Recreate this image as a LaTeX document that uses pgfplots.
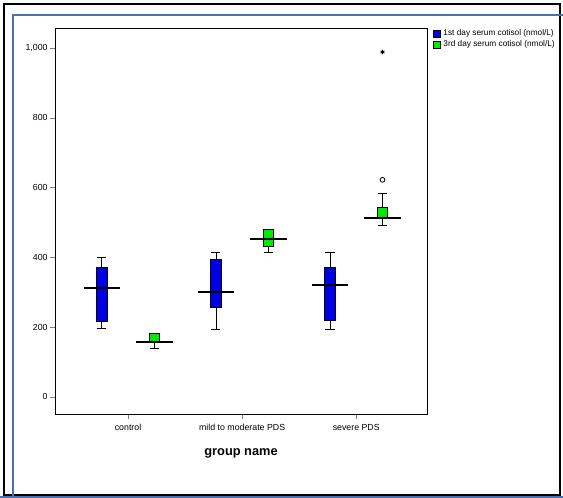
\documentclass[border=0pt]{standalone}
\usepackage{pgfplots}
\pgfplotsset{compat=1.18}
\usepackage{fontspec}
\setmainfont{Liberation Sans}
\definecolor{spssblue}{RGB}{0,0,230}
\definecolor{spssgreen}{RGB}{0,235,0}
\definecolor{frameblue}{RGB}{74,112,180}
\begin{document}
\begin{tikzpicture}
\begin{scope}[x=0.75pt,y=0.75pt]
\useasboundingbox (0,0) rectangle (563,498);
\draw[black, line width=1.5pt] (4,3) -- (4,494) -- (560,494) -- (560,3) -- cycle;
\draw[frameblue, line width=1.5pt] (13,1) -- (13,483) -- (563,483);
\draw[frameblue, line width=1.5pt] (0,1) -- (563,1);
\end{scope}
\begin{axis}[
  at={(41.25pt,63pt)}, anchor=south west,
  scale only axis, width=279pt, height=289.5pt,
  xmin=0.36, xmax=3.62, ymin=-49, ymax=1057,
  xtick={1,2,3},
  xticklabels={control, mild to moderate PDS, severe PDS},
  ytick={0,200,400,600,800,1000},
  tick align=outside, tick pos=left, major tick length=3.5pt,
  /pgf/number format/1000 sep={,},
  /pgf/number format/assume math mode=true,
  tick label style={font=\fontsize{6.6}{7}\selectfont},
  yticklabel style={xshift=1.5pt},
  xticklabel style={yshift=-0.5pt},
  xlabel={group name},
  xlabel style={font=\bfseries\fontsize{9.6}{11}\selectfont, yshift=-7pt},
  axis line style={black, line width=0.6pt},
  unbounded coords=jump,
  legend style={at={(1.016,1.003)}, anchor=north west, draw=none, fill=none,
    font=\fontsize{6.2}{6.5}\selectfont, inner sep=0pt, row sep=-2pt,
    cells={anchor=west}},
  legend image code/.code={\draw[#1, draw=black, line width=0.5pt] (0pt,-2.6pt) rectangle (5.2pt,2.6pt);},
]
\addlegendimage{fill=spssblue}
\addlegendentry{1st day serum cotisol (nmol/L)}
\addlegendimage{fill=spssgreen}
\addlegendentry{3rd day serum cotisol (nmol/L)}

% ---- whiskers (lower whisker, Q1 | Q3, upper whisker) with caps ----
% 1st day, control: 195 / 215 / 312 / 370 / 401
\addplot[forget plot, black, line width=0.6pt] coordinates {
 (0.73,195) (0.81,195) (0.77,nan) (0.77,195) (0.77,215) (0.77,nan)
 (0.77,370) (0.77,401) (0.77,nan) (0.73,401) (0.81,401)};
% 1st day, mild: 192 / 255 / 301 / 393 / 413
\addplot[forget plot, black, line width=0.6pt] coordinates {
 (1.73,192) (1.81,192) (1.77,nan) (1.77,192) (1.77,255) (1.77,nan)
 (1.77,393) (1.77,413) (1.77,nan) (1.73,413) (1.81,413)};
% 1st day, severe: 192 / 218 / 321 / 370 / 413
\addplot[forget plot, black, line width=0.6pt] coordinates {
 (2.73,192) (2.81,192) (2.77,nan) (2.77,192) (2.77,218) (2.77,nan)
 (2.77,370) (2.77,413) (2.77,nan) (2.73,413) (2.81,413)};
% 3rd day, control: 140 / 160 / 158 / 183 / 183
\addplot[forget plot, black, line width=0.6pt] coordinates {
 (1.19,140) (1.27,140) (1.23,nan) (1.23,140) (1.23,160)};
% 3rd day, mild: 413 / 430 / 453 / 481 / 481
\addplot[forget plot, black, line width=0.6pt] coordinates {
 (2.19,413) (2.27,413) (2.23,nan) (2.23,413) (2.23,430)};
% 3rd day, severe: 490 / 513 / 513 / 544 / 584
\addplot[forget plot, black, line width=0.6pt] coordinates {
 (3.19,490) (3.27,490) (3.23,nan) (3.23,490) (3.23,513) (3.23,nan)
 (3.23,544) (3.23,584) (3.23,nan) (3.19,584) (3.27,584)};

% ---- boxes (Q1 to Q3) ----
\addplot[forget plot, draw=black, fill=spssblue, line width=0.6pt] coordinates {
 (0.725,215) (0.815,215) (0.815,370) (0.725,370) (0.725,215)};
\addplot[forget plot, draw=black, fill=spssblue, line width=0.6pt] coordinates {
 (1.725,255) (1.815,255) (1.815,393) (1.725,393) (1.725,255)};
\addplot[forget plot, draw=black, fill=spssblue, line width=0.6pt] coordinates {
 (2.725,218) (2.815,218) (2.815,370) (2.725,370) (2.725,218)};
\addplot[forget plot, draw=black, fill=spssgreen, line width=0.6pt] coordinates {
 (1.185,160) (1.275,160) (1.275,183) (1.185,183) (1.185,160)};
\addplot[forget plot, draw=black, fill=spssgreen, line width=0.6pt] coordinates {
 (2.185,430) (2.275,430) (2.275,481) (2.185,481) (2.185,430)};
\addplot[forget plot, draw=black, fill=spssgreen, line width=0.6pt] coordinates {
 (3.185,513) (3.275,513) (3.275,544) (3.185,544) (3.185,513)};

% ---- medians (wide bars) ----
\addplot[forget plot, black, line width=1.6pt] coordinates {(0.61,312) (0.93,312)};
\addplot[forget plot, black, line width=1.6pt] coordinates {(1.61,301) (1.93,301)};
\addplot[forget plot, black, line width=1.6pt] coordinates {(2.61,321) (2.93,321)};
\addplot[forget plot, black, line width=1.6pt] coordinates {(1.07,158) (1.39,158)};
\addplot[forget plot, black, line width=1.6pt] coordinates {(2.07,453) (2.39,453)};
\addplot[forget plot, black, line width=1.6pt] coordinates {(3.07,513) (3.39,513)};

% ---- outliers ----
\addplot[forget plot, only marks, mark=o, mark size=1.8pt, black, line width=0.6pt]
  coordinates {(3.23,622)};
\addplot[forget plot, only marks, mark=asterisk, mark size=1.7pt, black, line width=0.7pt]
  coordinates {(3.23,988)};
\end{axis}
\end{tikzpicture}
\end{document}
